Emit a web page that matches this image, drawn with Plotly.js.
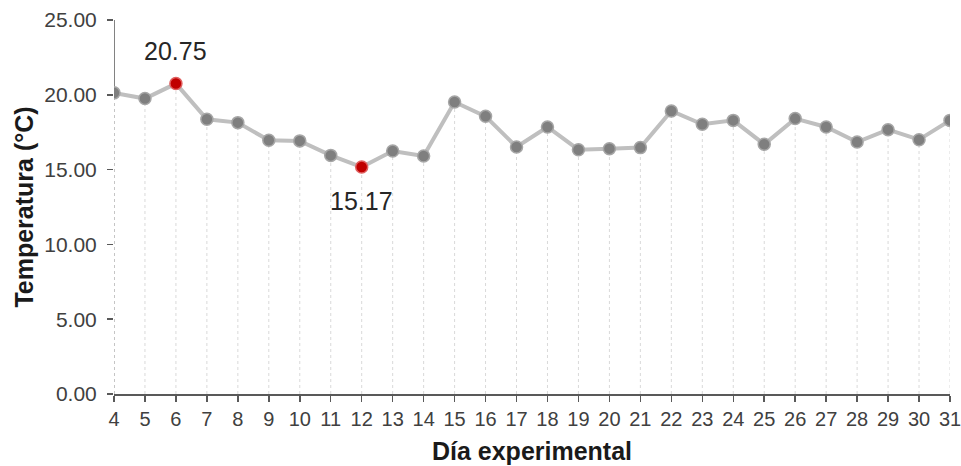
<!DOCTYPE html>
<html>
<head>
<meta charset="utf-8">
<script src="https://cdn.plot.ly/plotly-3.0.1.min.js"></script>
<style>html,body{margin:0;padding:0;background:#fff;}#chart{width:961px;height:466px;}</style>
</head>
<body>
<div id="chart"></div>
<script>
const days = [4,5,6,7,8,9,10,11,12,13,14,15,16,17,18,19,20,21,22,23,24,25,26,27,28,29,30,31];
const temps = [20.13,19.75,20.75,18.36,18.14,16.96,16.92,15.95,15.17,16.24,15.91,19.52,18.56,16.51,17.85,16.33,16.40,16.47,18.92,18.03,18.29,16.69,18.41,17.85,16.84,17.67,17.00,18.29];
const yTicks = [0,5,10,15,20,25];
const yTickLabels = ['0.00','5.00','10.00','15.00','20.00','25.00'];
const maxDay = 6, minDay = 12;

const markerColors = days.map(d => (d === maxDay || d === minDay) ? '#C00000' : '#7F7F7F');
const markerLines = days.map(d => (d === maxDay || d === minDay) ? '#E06060' : '#A6A6A6');

const shapes = days.map((d, i) => ({
  type: 'line', xref: 'x', yref: 'y', x0: d, x1: d, y0: 0, y1: temps[i],
  line: {color: i === 0 ? '#8C8C8C' : '#D9D9D9', width: 1, dash: 'dot'}, layer: 'below'
}));
shapes.push({type: 'line', xref: 'x', yref: 'y', x0: days[0], x1: days[0], y0: temps[0], y1: 25,
  line: {color: '#595959', width: 1.5}, layer: 'below'});

const iMax = days.indexOf(maxDay), iMin = days.indexOf(minDay);
const annotations = [
  {x: days[iMax], y: temps[iMax], text: temps[iMax].toFixed(2), showarrow: false, yshift: 33,
   font: {family: 'Liberation Sans, Arial', size: 25, color: '#262626'}},
  {x: days[iMin], y: temps[iMin], text: temps[iMin].toFixed(2), showarrow: false, yshift: -34,
   font: {family: 'Liberation Sans, Arial', size: 25, color: '#262626'}}
];

const trace = {
  x: days, y: temps, type: 'scatter', mode: 'lines+markers',
  line: {color: '#BFBFBF', width: 4},
  marker: {size: 12, color: markerColors, line: {color: markerLines, width: 1.5}},
  hoverinfo: 'x+y'
};

const layout = {
  width: 961, height: 466,
  margin: {l: 114, r: 11, t: 20, b: 72},
  paper_bgcolor: '#fff', plot_bgcolor: '#fff',
  showlegend: false,
  font: {family: 'Liberation Sans, Arial', color: '#404040', size: 20},
  xaxis: {
    type: 'linear', range: [4, 31], tickmode: 'array', tickvals: days, ticktext: days.map(String),
    showgrid: false, zeroline: false, showline: true, linecolor: '#595959', linewidth: 2,
    ticks: 'outside', ticklen: 6, tickcolor: '#595959', tickwidth: 1.5,
    ticklabeloverflow: 'allow',
    tickfont: {family: 'Liberation Sans, Arial', size: 20, color: '#404040'},
    title: {text: 'Día experimental', font: {size: 25, color: '#1a1a1a', weight: 'bold'}, standoff: 13},
    fixedrange: true
  },
  yaxis: {
    type: 'linear', range: [0, 25], tickmode: 'array', tickvals: yTicks, ticktext: yTickLabels,
    showgrid: false, zeroline: false, showline: false,
    ticks: 'outside', ticklen: 6, tickcolor: '#595959', tickwidth: 1.5,
    ticklabelstandoff: 6,
    tickfont: {family: 'Liberation Sans, Arial', size: 21, color: '#404040'},
    title: {text: 'Temperatura (°C)', font: {size: 25, color: '#1a1a1a', weight: 'bold'}, standoff: 3},
    fixedrange: true
  },
  shapes: shapes,
  annotations: annotations
};

Plotly.newPlot('chart', [trace], layout, {displayModeBar: false, staticPlot: true});
</script>
</body>
</html>
